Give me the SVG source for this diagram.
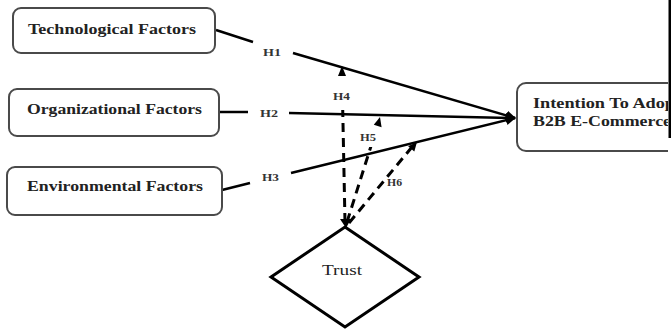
<svg xmlns="http://www.w3.org/2000/svg" width="671" height="330" viewBox="0 0 671 330">
<style>
.box{fill:#fff;stroke:#4a4a4a;stroke-width:2}
.lbl{font-family:"Liberation Serif","Times New Roman",serif;font-weight:bold;font-size:15px;fill:#222}
.h{font-family:"Liberation Serif","Times New Roman",serif;font-weight:bold;font-size:10px;fill:#333}
.ln{stroke:#000;stroke-width:2.5;fill:none}
.dash{stroke:#000;stroke-width:3;fill:none;stroke-dasharray:9 6}
.bg{fill:#fff}
.tip{fill:#000}
</style>
<defs>
<marker id="ah" viewBox="0 0 10 10" refX="9" refY="5" markerWidth="4" markerHeight="4" orient="auto" markerUnits="strokeWidth">
<path d="M0,0 L10,5 L0,10 z" fill="#000"/>
</marker>
<clipPath id="edge"><rect x="0" y="0" width="668" height="330"/></clipPath>
</defs>
<rect x="0" y="0" width="671" height="330" fill="#fff"/>

<g id="connectors">
<line class="ln" x1="216" y1="30" x2="253" y2="42"/>
<line class="ln" x1="293" y1="53" x2="515" y2="118" marker-end="url(#ah)"/>
<line class="ln" x1="219" y1="112" x2="248" y2="112"/>
<line class="ln" x1="289" y1="113" x2="515" y2="118" marker-end="url(#ah)"/>
<line class="ln" x1="222" y1="190" x2="250" y2="183"/>
<line class="ln" x1="291" y1="173" x2="515" y2="118" marker-end="url(#ah)"/>
<line class="dash" x1="345" y1="222" x2="342" y2="74"/>
<line class="dash" x1="347" y1="222" x2="378" y2="124"/>
<line class="dash" x1="349" y1="223" x2="412" y2="147"/>
<path d="M340,219 L351,219 L346,228 z" fill="#000"/>
<rect class="bg" x="331" y="77" width="22" height="33"/>
<rect class="bg" x="356" y="127" width="28" height="20"/>
<path class="tip" d="M342,66 L346,76 L338,76 z"/>
<path class="tip" d="M380,117 L381.6,127.2 L373.8,124.8 z"/>
<path class="tip" d="M417,142 L414.3,151.5 L408.1,146.3 z"/>
<text class="h" x="333" y="100" textLength="17" lengthAdjust="spacingAndGlyphs">H4</text>
<text class="h" x="360" y="141" textLength="16" lengthAdjust="spacingAndGlyphs">H5</text>
<text class="h" x="263" y="56" textLength="18" lengthAdjust="spacingAndGlyphs">H1</text>
<text class="h" x="260" y="117" textLength="18" lengthAdjust="spacingAndGlyphs">H2</text>
<text class="h" x="262" y="181" textLength="17" lengthAdjust="spacingAndGlyphs">H3</text>
<text class="h" x="387" y="186" textLength="15" lengthAdjust="spacingAndGlyphs">H6</text>
</g>

<g id="technological">
<rect class="box" x="13" y="8" width="202" height="45" rx="8"/>
<text class="lbl" x="28" y="34" textLength="168" lengthAdjust="spacingAndGlyphs">Technological Factors</text>
</g>
<g id="organizational">
<rect class="box" x="9" y="89" width="210" height="47" rx="8"/>
<text class="lbl" x="27" y="114" textLength="175" lengthAdjust="spacingAndGlyphs">Organizational Factors</text>
</g>
<g id="environmental">
<rect class="box" x="7" y="167" width="215" height="48" rx="8"/>
<text class="lbl" x="27" y="191" textLength="176" lengthAdjust="spacingAndGlyphs">Environmental Factors</text>
</g>
<g id="intention" clip-path="url(#edge)">
<rect class="box" x="517" y="83" width="180" height="68" rx="9"/>
<text class="lbl" x="533" y="108" textLength="142" lengthAdjust="spacingAndGlyphs">Intention To Adop</text>
<text class="lbl" x="533" y="126" textLength="138" lengthAdjust="spacingAndGlyphs">B2B E-Commerce</text>
</g>
<rect x="668.5" y="0" width="2.5" height="138" fill="#000"/>
<g id="trust">
<polygon points="345,227 419,277 345,327 271,277" fill="#fff" stroke="#000" stroke-width="3" stroke-linejoin="miter"/>
<text x="322" y="275" font-family="Liberation Serif,'Times New Roman',serif" font-size="15" fill="#222" textLength="40" lengthAdjust="spacingAndGlyphs">Trust</text>
</g>
</svg>
